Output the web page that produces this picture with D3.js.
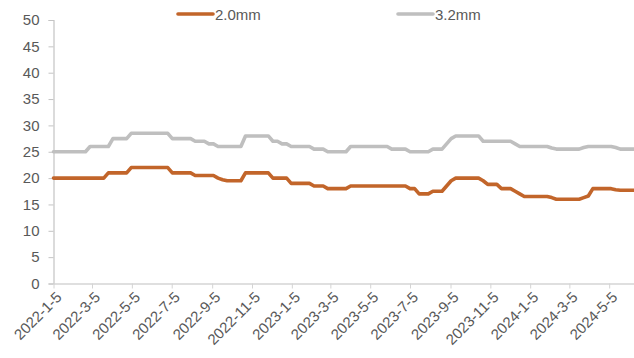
<!DOCTYPE html>
<html>
<head>
<meta charset="utf-8">
<script src="https://cdn.jsdelivr.net/npm/d3@7"></script>
<style>
  body { margin: 0; background: #fff; }
  svg { display: block; font-family: "Liberation Sans", Arial, sans-serif; }
</style>
</head>
<body>
<svg></svg>
<script>
// weekly prices, first week 2022-1-5
let startDate = "2022-1-5";

let s20 = [
  20, 20, 20, 20, 20, 20, 20, 20, 20, 20, 20, 20,
  21, 21, 21, 21, 21,
  22, 22, 22, 22, 22, 22, 22, 22, 22,
  21, 21, 21, 21, 21,
  20.5, 20.5, 20.5, 20.5, 20.5,
  20, 19.7, 19.5, 19.5, 19.5, 19.5,
  21, 21, 21, 21, 21, 21,
  20, 20, 20, 20,
  19, 19, 19, 19, 19,
  18.5, 18.5, 18.5,
  18, 18, 18, 18, 18,
  18.5, 18.5, 18.5, 18.5, 18.5, 18.5, 18.5, 18.5, 18.5, 18.5, 18.5, 18.5, 18.5,
  18, 18,
  17, 17, 17,
  17.5, 17.5, 17.5,
  18.5, 19.5,
  20, 20, 20, 20, 20, 20,
  19.5, 18.8, 18.8, 18.8,
  18, 18, 18,
  17.5, 17,
  16.5, 16.5, 16.5, 16.5, 16.5, 16.5,
  16.3,
  16, 16, 16, 16, 16, 16,
  16.3, 16.6,
  18, 18, 18, 18, 18,
  17.8,
  17.7, 17.7, 17.7, 17.7
];

let s32 = [
  25, 25, 25, 25, 25, 25, 25, 25,
  26, 26, 26, 26, 26,
  27.5, 27.5, 27.5, 27.5,
  28.5, 28.5, 28.5, 28.5, 28.5, 28.5, 28.5, 28.5, 28.5,
  27.5, 27.5, 27.5, 27.5, 27.5,
  27, 27, 27,
  26.5, 26.5,
  26, 26, 26, 26, 26, 26,
  28, 28, 28, 28, 28, 28,
  27, 27,
  26.5, 26.5,
  26, 26, 26, 26, 26,
  25.5, 25.5, 25.5,
  25, 25, 25, 25, 25,
  26, 26, 26, 26, 26, 26, 26, 26, 26,
  25.5, 25.5, 25.5, 25.5,
  25, 25, 25, 25, 25,
  25.5, 25.5, 25.5,
  26.5, 27.5,
  28, 28, 28, 28, 28, 28,
  27, 27, 27, 27, 27, 27, 27,
  26.5,
  26, 26, 26, 26, 26, 26, 26,
  25.7,
  25.5, 25.5, 25.5, 25.5, 25.5, 25.5,
  25.8,
  26, 26, 26, 26, 26, 26,
  25.8,
  25.5, 25.5, 25.5, 25.5
];

let seriesNames = ["2.0mm", "3.2mm"];
let seriesColors = ["#c2652a", "#bfbfbf"];

let xTickLabels = [
  "2022-1-5", "2022-3-5", "2022-5-5", "2022-7-5", "2022-9-5", "2022-11-5",
  "2023-1-5", "2023-3-5", "2023-5-5", "2023-7-5", "2023-9-5", "2023-11-5",
  "2024-1-5", "2024-3-5", "2024-5-5"
];
let yTicks = [0, 5, 10, 15, 20, 25, 30, 35, 40, 45, 50];

let width = 634;
let height = 358;
let plotLeft = 53.5;
let plotRight = 634;
let plotTop = 20;
let plotBottom = 283.5;

let parseDate = d3.timeParse("%Y-%m-%d");
let start = parseDate(startDate);
let dates = s20.map((v, i) => d3.timeDay.offset(start, 7 * i));

let svg = d3.select("svg")
  .attr("width", width)
  .attr("height", height);

let xScale = d3.scaleTime()
  .domain([dates[0], dates[dates.length - 1]])
  .range([plotLeft, plotRight]);

let yScale = d3.scaleLinear()
  .domain([0, 50])
  .range([plotBottom, plotTop]);

// y axis
let yAxis = d3.axisLeft(yScale)
  .tickValues(yTicks)
  .tickSize(5)
  .tickPadding(9);

let gy = svg.append("g")
  .attr("transform", "translate(" + plotLeft + ",0)")
  .call(yAxis);
gy.select(".domain").attr("stroke", "#c4c4c4").attr("stroke-width", 1.2);
gy.selectAll(".tick line").attr("stroke", "#c4c4c4");
gy.selectAll(".tick text")
  .attr("fill", "#595959")
  .style("font-size", "15px");

// x axis
let xAxis = d3.axisBottom(xScale)
  .tickValues(xTickLabels.map(parseDate))
  .tickFormat((d) => (d.getFullYear()) + "-" + (d.getMonth() + 1) + "-" + d.getDate())
  .tickSize(5)
  .tickSizeOuter(0);

let gx = svg.append("g")
  .attr("transform", "translate(0," + plotBottom + ")")
  .call(xAxis);
gx.select(".domain").attr("stroke", "#d4d4d4").attr("stroke-width", 1.5);
gx.selectAll(".tick line").attr("stroke", "#d4d4d4");
gx.selectAll(".tick text")
  .attr("fill", "#595959")
  .style("font-size", "15px")
  .attr("text-anchor", "end")
  .attr("x", 0)
  .attr("y", 0)
  .attr("dy", "0.35em")
  .attr("transform", "translate(5,11) rotate(-45)");

// lines
let line = d3.line()
  .x((d, i) => xScale(dates[i]))
  .y((d) => yScale(d));

[s20, s32].forEach((values, k) => {
  svg.append("path")
    .datum(values)
    .attr("fill", "none")
    .attr("stroke", seriesColors[k])
    .attr("stroke-width", 3.6)
    .attr("stroke-linejoin", "round")
    .attr("stroke-linecap", "round")
    .attr("d", line);
});

// legend
let legendX = [178, 398];
seriesNames.forEach((name, k) => {
  let g = svg.append("g").attr("transform", "translate(" + legendX[k] + ",14)");
  g.append("line")
    .attr("x1", 0).attr("x2", 35)
    .attr("y1", 0).attr("y2", 0)
    .attr("stroke", seriesColors[k])
    .attr("stroke-width", 3.6)
    .attr("stroke-linecap", "round");
  g.append("text")
    .attr("x", 37)
    .attr("y", 5.5)
    .attr("fill", "#595959")
    .style("font-size", "15px")
    .text(name);
});
</script>
</body>
</html>
